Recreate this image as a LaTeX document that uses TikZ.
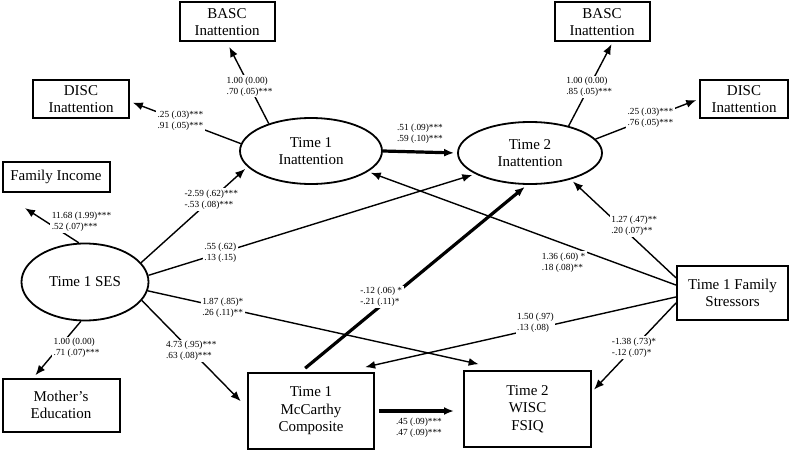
\documentclass[tikz,border=0pt]{standalone}
\usepackage{fontspec}
\setmainfont{Liberation Serif}
\usetikzlibrary{arrows.meta,shapes.geometric}

\begin{document}
\begin{tikzpicture}[x=1pt, y=-1pt,
    box/.style={draw, line width=2pt, align=center, inner sep=0pt, font=\fontsize{15}{17.5}\selectfont},
    latent/.style={draw, ellipse, line width=1.8pt, align=center, inner sep=0pt, font=\fontsize{15}{17.5}\selectfont},
    arrowln/.style={-{Latex[length=10pt,width=8pt]}, line width=1.4pt, shorten >=3pt},
    thickarr/.style={arrowln, line width=3.2pt},
    coef/.style={fill=white, align=left, inner sep=1.5pt, font=\fontsize{9.3}{11}\selectfont}]
            \useasboundingbox (0, 0) rectangle (800, 452);
            \node[box, minimum width=95, minimum height=39] (basc1) at (227, 22) {BASC\\Inattention};
            \node[box, minimum width=96, minimum height=38] (disc1) at (81, 99) {DISC\\Inattention};
            \node[latent, minimum width=142, minimum height=66] (inatt1) at (311, 151) {Time 1\\Inattention};
            \node[latent, minimum width=144, minimum height=62] (inatt2) at (530, 153) {Time 2\\Inattention};
            \node[box, minimum width=95, minimum height=39] (basc2) at (602, 22) {BASC\\Inattention};
            \node[box, minimum width=88, minimum height=38] (disc2) at (744, 99) {DISC\\Inattention};
            \node[box, minimum width=107, minimum height=30] (income) at (56, 177) {Family Income};
            \node[latent, minimum width=127, minimum height=77] (ses) at (85, 282) {Time 1 SES};
            \node[box, minimum width=117, minimum height=53] (mother) at (61, 405) {Mother’s\\Education};
            \node[box, minimum width=126, minimum height=76] (mccarthy) at (311, 411) {Time 1\\McCarthy\\Composite};
            \node[box, minimum width=127, minimum height=76] (wisc) at (527.5, 409) {Time 2\\WISC\\FSIQ};
            \node[box, minimum width=111, minimum height=54] (stress) at (732.5, 293) {Time 1 Family\\Stressors};
            \draw[arrowln, shorten >=5pt] (inatt1.147) to node[coef, pos=0.46] {1.00 (0.00)\\.70 (.05)***} (basc1.south);
            \draw[arrowln] (inatt1.174) to node[coef, pos=0.545] {.25 (.03)***\\.91 (.05)***} (disc1.-3);
            \draw[thickarr] (inatt1.east) to node[coef, above=5pt, midway] {.51 (.09)***\\.59 (.10)***} (inatt2.west);
            \draw[arrowln, shorten >=2pt] (inatt2.35) to node[coef, pos=0.47] {1.00 (0.00)\\.85 (.05)***} (basc2.-63);
            \draw[arrowln] (inatt2.12) to node[coef, pos=0.53] {.25 (.03)***\\.76 (.05)***} (disc2.west);
            \draw[arrowln, shorten >=28pt] (ses.99) to node[coef, pos=0.43, xshift=36pt] {11.68 (1.99)***\\.52 (.07)***} (income.south west);
            \draw[arrowln] (ses.19) to node[coef, pos=0.66] {-2.59 (.62)***\\-.53 (.08)***} (inatt1.194);
            \draw[arrowln] (ses.6) to node[coef, pos=0.22] {.55 (.62)\\.13 (.15)} (inatt2.201);
            \draw[arrowln] (ses.264) to node[coef, pos=0.47, xshift=18pt] {1.00 (0.00)\\.71 (.07)***} (mother.135);
            \draw[arrowln, shorten >=9pt] (ses.-18) to node[coef, pos=0.47] {4.73 (.95)***\\.63 (.08)***} (mccarthy.177);
            \draw[arrowln, shorten >=27pt] (ses.-8) to node[coef, pos=0.21] {1.87 (.85)*\\.26 (.11)**} (wisc.120);
            \draw[thickarr, shorten <=6pt] (mccarthy.105) to node[coef, pos=0.4, xshift=-10pt] {-.12 (.06) *\\-.21 (.11)*} (inatt2.265);
            \draw[thickarr, shorten <=4pt, shorten >=9pt] (mccarthy.east) to node[coef, below=4pt, midway] {.45 (.09)***\\.47 (.09)***} (mccarthy.east -| wisc.west);
            \draw[arrowln] (stress.172) to node[coef, pos=0.365, yshift=-19pt] {1.36 (.60) *\\.18 (.08)**} (inatt1.-20);
            \draw[arrowln] (stress.165) to node[coef, pos=0.53, xshift=14pt] {1.27 (.47)**\\.20 (.07)**} (inatt2.-33);
            \draw[arrowln, shorten >=22pt] (stress.184) to node[coef, pos=0.423, yshift=6pt] {1.50 (.97)\\.13 (.08)} (mccarthy.50);
            \draw[arrowln] (stress.190) to node[coef, pos=0.5] {-1.38 (.73)*\\-.12 (.07)*} (wisc.15);
        \end{tikzpicture}
\end{document}
